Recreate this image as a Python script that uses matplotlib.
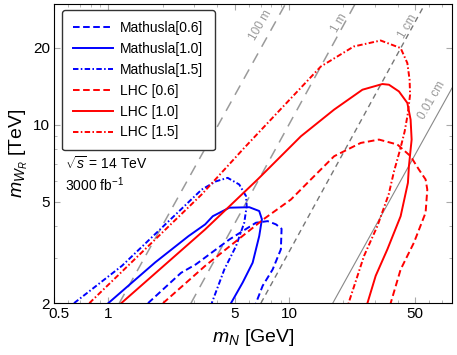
import numpy as np
import matplotlib
matplotlib.use('Agg')
import matplotlib.pyplot as plt
from matplotlib.transforms import ScaledTranslation

plt.rcParams['font.family'] = ['Liberation Sans', 'DejaVu Sans']
plt.rcParams['mathtext.fontset'] = 'custom'
plt.rcParams['mathtext.rm'] = 'Liberation Sans'
plt.rcParams['mathtext.it'] = 'Liberation Sans:italic'

# Mathusla contours (m_N [GeV], m_WR [TeV])
math06_x = [1.66, 2.53, 3.06, 4.68, 6.57, 7.63, 8.48, 9.11, 9.03, 8.13, 7.16, 6.57]
math06_y = [2.0, 2.63, 2.84, 3.55, 4.13, 4.19, 4.07, 3.91, 3.25, 2.71, 2.34, 2.0]
math10_x = [1.0, 1.82, 2.78, 3.44, 3.79, 4.68, 6.04, 6.85, 7.09, 6.85, 6.30, 5.55, 4.78]
math10_y = [2.0, 2.89, 3.66, 4.07, 4.38, 4.73, 4.75, 4.59, 4.26, 3.66, 2.88, 2.41, 2.0]
math15_x = [0.646, 1.19, 1.98, 3.29, 3.95, 4.58, 5.31, 5.79, 5.84, 5.66, 5.10, 4.39, 3.74]
math15_y = [2.0, 2.80, 3.95, 5.57, 6.00, 6.19, 5.83, 5.25, 4.80, 4.13, 3.35, 2.71, 2.0]

# LHC contours
lhc06_x = [2.01, 3.44, 7.23, 10.26, 13.23, 17.8, 22.95, 25.0, 31.54, 39.87, 47.21,
           52.48, 57.15, 58.4, 57.15, 49.24, 41.57, 36.61]
lhc06_y = [2.0, 2.80, 4.26, 5.09, 6.10, 7.52, 8.23, 8.48, 8.74, 8.36, 7.52,
           6.67, 6.10, 5.57, 4.52, 3.45, 2.71, 2.0]
lhc10_x = [1.18, 3.44, 6.71, 11.65, 17.8, 25.54, 32.94, 35.83, 40.68, 45.28, 47.21,
           47.83, 46.2, 45.62, 41.57, 35.11, 30.25, 27.22]
lhc10_y = [2.0, 3.89, 6.10, 9.00, 11.45, 13.70, 14.42, 14.33, 13.49, 12.16, 10.46,
           8.74, 6.87, 5.92, 4.38, 3.25, 2.56, 2.0]
lhc15_x = [0.785, 3.29, 5.66, 15.03, 22.87, 32.23, 41.57, 45.28, 46.6, 46.9, 45.46,
           43.74, 41.3, 38.18, 35.69, 30.91, 26.06, 21.4]
lhc15_y = [2.0, 5.33, 8.11, 16.89, 20.23, 21.35, 19.94, 17.42, 14.99, 13.10, 10.94,
           9.39, 7.99, 6.55, 5.33, 4.01, 3.06, 2.0]

# decay length lines: endpoints
decay_labels = ['100 m', '1 m', '1 cm', '0.01 cm']
decay_x = [[1.15, 9.63], [2.87, 23.4], [7.0, 57.0], [17.5, 80.0]]
decay_y = [[2.0, 29.9], [2.0, 29.9], [2.0, 29.9], [2.0, 13.9]]
decay_text_x = [7.0, 19.0, 45.3, 62.2]
decay_text_y = [24.4, 24.9, 24.2, 12.5]

fig = plt.figure(figsize=(4.57, 3.55), dpi=100)
ax = fig.add_axes([0.118, 0.146, 0.871, 0.842])

# gray lines
gstyles = [dict(color='#9a9a9a', lw=1.1, dashes=(7, 5)),
           dict(color='#9a9a9a', lw=1.1, dashes=(7, 5)),
           dict(color='#777777', lw=1.0, dashes=(4, 3)),
           dict(color='#888888', lw=0.8, ls='-')]
for i in range(4):
    ax.plot(decay_x[i], decay_y[i], **gstyles[i])
    ax.text(decay_text_x[i], decay_text_y[i], decay_labels[i], rotation=60,
            color='#999999', fontsize=8.5, ha='center', va='center')

lw = 1.4
dash = (3.4, 1.8)
dashdot = (2.8, 1.2, 0.8, 1.2)
ax.plot(math06_x, math06_y, color='blue', lw=lw, dashes=dash, label='Mathusla[0.6]')
ax.plot(math10_x, math10_y, color='blue', lw=lw, ls='-', label='Mathusla[1.0]')
ax.plot(math15_x, math15_y, color='blue', lw=lw, dashes=dashdot, label='Mathusla[1.5]')
ax.plot(lhc06_x, lhc06_y, color='red', lw=lw, dashes=dash, label='LHC [0.6]')
ax.plot(lhc10_x, lhc10_y, color='red', lw=lw, ls='-', label='LHC [1.0]')
ax.plot(lhc15_x, lhc15_y, color='red', lw=lw, dashes=dashdot, label='LHC [1.5]')

ax.set_xscale('log')
ax.set_yscale('log')
ax.set_xlim(0.5, 80)
ax.set_ylim(2, 29.6)
ax.set_xticks([0.5, 1, 5, 10, 50])
ax.set_xticklabels(['0.5', '1', '5', '10', '50'])
ax.set_yticks([2, 5, 10, 20])
ax.set_yticklabels(['2', '5', '10', '20'])
ax.tick_params(which='both', direction='in', top=True, right=True, color='#aaaaaa',
               labelsize=11, pad=3)
ax.tick_params(which='major', length=4)
ax.tick_params(which='minor', length=2)
ax.yaxis.set_minor_formatter(plt.NullFormatter())
ax.xaxis.set_minor_formatter(plt.NullFormatter())

# nudge the 0.5 label right so it clears the "2"
lab05 = ax.get_xticklabels()[0]
lab05.set_transform(lab05.get_transform() + ScaledTranslation(5 / 100, 0, fig.dpi_scale_trans))

ax.set_xlabel(r'$m_N$ [GeV]', fontsize=14, labelpad=4)
ax.set_ylabel(r'$m_{W_R}$ [TeV]', fontsize=14, labelpad=2)

ax.text(0.028, 0.468, r'$\sqrt{s}$ = 14 TeV', transform=ax.transAxes, fontsize=10,
        va='center')
ax.text(0.028, 0.395, r'3000 fb$^{-1}$', transform=ax.transAxes, fontsize=10,
        va='center')

leg = ax.legend(loc='upper left', bbox_to_anchor=(0.02, 0.98), borderaxespad=0,
                fontsize=10, handlelength=2.9, handletextpad=0.5, labelspacing=0.49,
                borderpad=0.8, frameon=True, fancybox=True, edgecolor='#333333',
                framealpha=1)
leg.get_frame().set_linewidth(1.0)

fig.savefig('out.png', dpi=100)
